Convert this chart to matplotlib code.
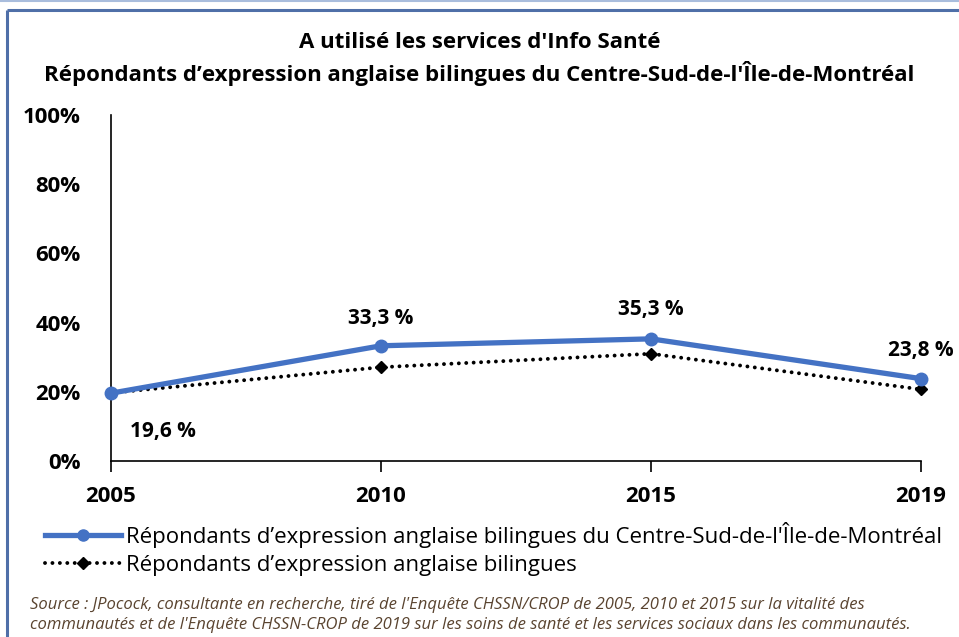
import matplotlib
matplotlib.use("Agg")
import matplotlib.pyplot as plt
from matplotlib.lines import Line2D
from matplotlib import font_manager

years = ["2005", "2010", "2015", "2019"]
region_vals = [19.6, 33.3, 35.3, 23.8]
bilingual_vals = [19.7, 27.1, 31.0, 20.7]
region_labels = ["19,6 %", "33,3 %", "35,3 %", "23,8 %"]
yticks = [0, 20, 40, 60, 80, 100]
ytick_labels = ["0%", "20%", "40%", "60%", "80%", "100%"]

title = "A utilisé les services d'Info Santé\nRépondants d\u2019expression anglaise bilingues du Centre-Sud-de-l'Île-de-Montréal"
series1 = "Répondants d\u2019expression anglaise bilingues du Centre-Sud-de-l'Île-de-Montréal"
series2 = "Répondants d\u2019expression anglaise bilingues"
source = ("Source : JPocock, consultante en recherche, tiré de l'Enquête CHSSN/CROP de 2005, 2010 et 2015 sur la vitalité des\n"
          "communautés et de l'Enquête CHSSN-CROP de 2019 sur les soins de santé et les services sociaux dans les communautés.")

avail = {f.name for f in font_manager.fontManager.ttflist}
fam = ["Liberation Sans Narrow", "DejaVu Sans"] if "Liberation Sans Narrow" in avail else ["Open Sans", "DejaVu Sans"]
plt.rcParams['font.family'] = fam

W, H = 959, 637
fig = plt.figure(figsize=(W/100, H/100), dpi=100)

def fx(px): return px / W
def fy(py): return 1 - py / H

# frame
fig.add_artist(Line2D([0, 1], [fy(0.5), fy(0.5)], color="#a9bddd", lw=1.5, transform=fig.transFigure))
fig.add_artist(Line2D([fx(7), 1], [fy(9.5), fy(9.5)], color="#4f6fa8", lw=2.2, transform=fig.transFigure, solid_capstyle='butt'))
fig.add_artist(Line2D([fx(7), fx(7)], [fy(9.5), 0], color="#4f6fa8", lw=2.2, transform=fig.transFigure, solid_capstyle='butt'))

ax = fig.add_axes([fx(111), fy(461), fx(921) - fx(111), fy(115) - fy(461)])
x = list(range(len(years)))
blue = "#4472C4"
dots = (0, (0.01, 1.9))
ax.plot(x, bilingual_vals, color="black", lw=2.8, linestyle=dots, dash_capstyle='round',
        marker='D', markersize=6, markerfacecolor='black', markeredgecolor='black', clip_on=False, zorder=2)
ax.plot(x, region_vals, color=blue, lw=3.8, marker='o', markersize=9, clip_on=False, zorder=3)

ax.set_xlim(0, 3)
ax.set_ylim(0, 100)
ax.set_yticks(yticks)
ax.set_yticklabels(ytick_labels, fontsize=16, fontweight='bold')
ax.set_xticks(x)
ax.set_xticklabels(years, fontsize=16, fontweight='bold')
ax.tick_params(axis='y', length=0, pad=22)
ax.tick_params(axis='x', length=8, width=1.2, direction='out', pad=10)
for s in ["top", "right"]:
    ax.spines[s].set_visible(False)
ax.spines["left"].set_linewidth(1.2)
ax.spines["bottom"].set_linewidth(1.2)

offsets = [(52, -38), (0, 27), (0, 29), (0, 28)]
for xi, v, lab, (dx, dy) in zip(x, region_vals, region_labels, offsets):
    ax.annotate(lab, (xi, v), xytext=(dx * 0.72, dy * 0.72), textcoords='offset points',
                ha='center', va='center', fontsize=15, fontweight='bold')

fig.text(0.5, fy(59), title, ha='center', va='center', fontsize=16, fontweight='bold', linespacing=1.4)

h1 = Line2D([], [], color=blue, lw=3.8, marker='o', markersize=8)
h2 = Line2D([], [], color="black", lw=2.8, linestyle=dots, dash_capstyle='round',
            marker='D', markersize=6)
fig.legend([h1, h2], [series1, series2], loc='upper left', bbox_to_anchor=(fx(45), fy(522)),
           frameon=False, fontsize=16, handlelength=3.4, handletextpad=0.25, labelspacing=0.3,
           borderpad=0, borderaxespad=0)

fig.text(fx(30), fy(615), source, ha='left', va='center', fontsize=12, style='italic',
         color="#5a4430", linespacing=1.35)

fig.savefig("out.png", dpi=100)
